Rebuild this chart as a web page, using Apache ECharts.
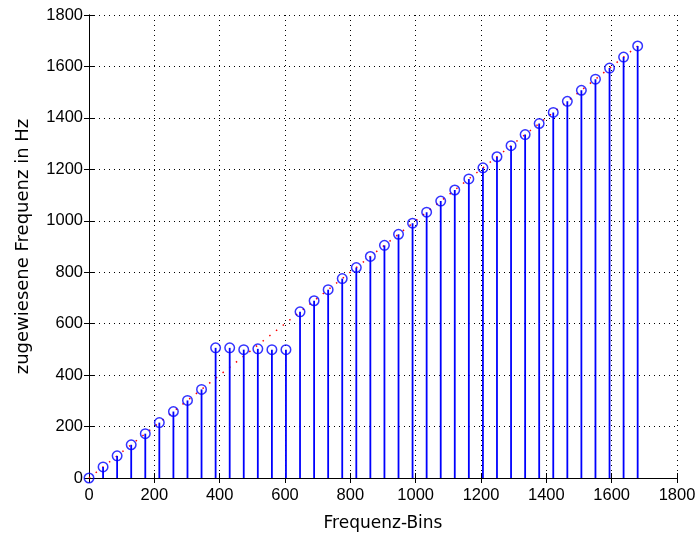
<!DOCTYPE html>
<html>
<head>
<meta charset="utf-8">
<script src="https://cdn.jsdelivr.net/npm/echarts@6/dist/echarts.min.js"></script>
<style>html,body{margin:0;padding:0;background:#fff}#c{width:698px;height:533px}</style>
</head>
<body>
<div id="c"></div>
<script>
const binFreq = [0, 43.1, 86.1, 129.2, 172.3, 215.3, 258.4, 301.5, 344.5, 387.6, 430.7, 473.7, 516.8, 559.9, 602.9, 646.0, 689.1, 732.1, 775.2, 818.3, 861.3, 904.4, 947.5, 990.5, 1033.6, 1076.7, 1119.7, 1162.8, 1205.9, 1248.9, 1292.0, 1335.1, 1378.1, 1421.2, 1464.3, 1507.3, 1550.4, 1593.5, 1636.5, 1679.6];
const assignedFreq = [0, 43.1, 86.1, 129.2, 172.3, 215.3, 258.4, 301.5, 344.5, 506, 506, 499, 502, 499, 499, 646.0, 689.1, 732.1, 775.2, 818.3, 861.3, 904.4, 947.5, 990.5, 1033.6, 1076.7, 1119.7, 1162.8, 1205.9, 1248.9, 1292.0, 1335.1, 1378.1, 1421.2, 1464.3, 1507.3, 1550.4, 1593.5, 1636.5, 1679.6];
const idealFreq = [0, 1679.6];
const idealBins = [0, 1679.6];
const xLabel = 'Frequenz-Bins';
const yLabel = 'zugewiesene Frequenz in Hz';

const TICKFONT = 'Liberation Sans';
const NAMEFONT = 'DejaVu Sans';
const stemData = binFreq.map((x, i) => [x, assignedFreq[i]]);
const idealData = idealBins.map((x, i) => [x, idealFreq[i]]);

const chart = echarts.init(document.getElementById('c'), null, {renderer: 'canvas'});
const axisCommon = {
  type: 'value', min: 0, max: 1800, interval: 200,
  axisLine: {show: true, lineStyle: {color: '#000', width: 1}},
  axisTick: {show: true, inside: true, length: 5, lineStyle: {color: '#000'}},
  splitLine: {show: false}
};
const fmt = v => String(v);
chart.setOption({
  backgroundColor: '#fff',
  animation: false,
  grid: {left: 89, right: 21, top: 15, bottom: 55, containLabel: false, outerBoundsMode: 'none'},
  xAxis: [
    Object.assign({}, axisCommon, {
      position: 'bottom',
      name: xLabel, nameLocation: 'middle', nameGap: 37,
      nameTextStyle: {color: '#000', fontSize: 17, fontFamily: NAMEFONT},
      axisLabel: {color: '#000', fontSize: 16.5, fontFamily: TICKFONT, margin: 9, formatter: fmt},
      splitLine: {show: true, lineStyle: {color: '#000', type: [1, 4], width: 1}}
    }),
    Object.assign({}, axisCommon, {position: 'top', axisLabel: {show: false}})
  ],
  yAxis: [
    Object.assign({}, axisCommon, {
      position: 'left',
      name: yLabel, nameLocation: 'middle', nameGap: 57,
      nameTextStyle: {color: '#000', fontSize: 18, fontFamily: NAMEFONT},
      axisLabel: {color: '#000', fontSize: 16.5, fontFamily: TICKFONT, margin: 6, formatter: fmt},
      splitLine: {show: true, lineStyle: {color: '#000', type: [1, 4], width: 1}}
    }),
    Object.assign({}, axisCommon, {position: 'right', axisLabel: {show: false}})
  ],
  series: [
    {
      type: 'line', data: idealData, showSymbol: false, symbol: 'none',
      lineStyle: {color: '#ff0000', width: 1.5, type: [1.5, 7]}, z: 1
    },
    {
      type: 'custom', data: stemData, z: 2,
      renderItem: function (params, api) {
        const p0 = api.coord([api.value(0), 0]);
        const p1 = api.coord([api.value(0), api.value(1)]);
        return {type: 'line', shape: {x1: p0[0], y1: p0[1], x2: p1[0], y2: p1[1]},
                style: {stroke: '#0000ff', lineWidth: 1.8}};
      }
    },
    {
      type: 'scatter', data: stemData, symbol: 'circle', symbolSize: 9.5, z: 3,
      itemStyle: {color: 'rgba(0,0,0,0)', borderColor: '#0000ff', borderWidth: 1.5}
    }
  ]
});
</script>
</body>
</html>
